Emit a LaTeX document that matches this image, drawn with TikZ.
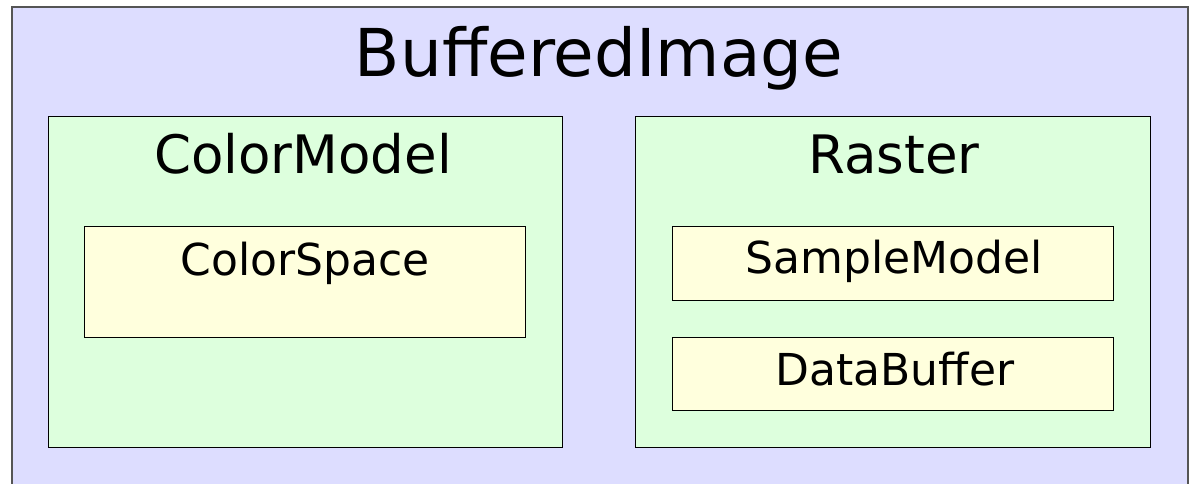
\documentclass[tikz,border=0pt]{standalone}
\usepackage{fontspec}
\setmainfont{DejaVu Sans}
\definecolor{outerfill}{HTML}{DDDDFF}
\definecolor{greenfill}{HTML}{DDFFDD}
\definecolor{yellowfill}{HTML}{FFFFDD}
\definecolor{outerline}{HTML}{555555}
\tikzset{
  box/.style={draw=black, line width=1.2pt, rectangle, inner sep=0pt, anchor=north west},
  outerbox/.style={box, draw=outerline, line width=1.5pt, fill=outerfill},
  greenbox/.style={box, fill=greenfill},
  yellowbox/.style={box, fill=yellowfill},
  lbl/.style={anchor=base, inner sep=0pt, text=black},
}
\begin{document}
\begin{tikzpicture}[x=1pt,y=-1pt]
\useasboundingbox (0,0) rectangle (1193,483);
\clip (0,0) rectangle (1193,483);
\fill[white] (0,0) rectangle (1193,483);
\node[outerbox, minimum width=1176pt, minimum height=500pt] (outer) at (11,6) {};
\node[greenbox, minimum width=514pt, minimum height=331pt] (colormodel) at (48,116) {};
\node[greenbox, minimum width=515pt, minimum height=331pt] (raster) at (635,116) {};
\node[yellowbox, minimum width=441pt, minimum height=111pt] (colorspace) at (84,226) {};
\node[yellowbox, minimum width=441pt, minimum height=74pt] (samplemodel) at (672,226) {};
\node[yellowbox, minimum width=441pt, minimum height=73pt] (databuffer) at (672,337) {};
\node[lbl, font=\fontsize{66}{66}\selectfont] (t-outer) at (599,76) {BufferedImage};
\node[lbl, font=\fontsize{53}{53}\selectfont] (t-colormodel) at (303,173) {ColorModel};
\node[lbl, font=\fontsize{53}{53}\selectfont] (t-raster) at (894,173) {Raster};
\node[lbl, font=\fontsize{44}{44}\selectfont] (t-colorspace) at (305,275) {ColorSpace};
\node[lbl, font=\fontsize{44}{44}\selectfont] (t-samplemodel) at (894,273) {SampleModel};
\node[lbl, font=\fontsize{44}{44}\selectfont] (t-databuffer) at (895,385) {DataBuffer};
\end{tikzpicture}
\end{document}
